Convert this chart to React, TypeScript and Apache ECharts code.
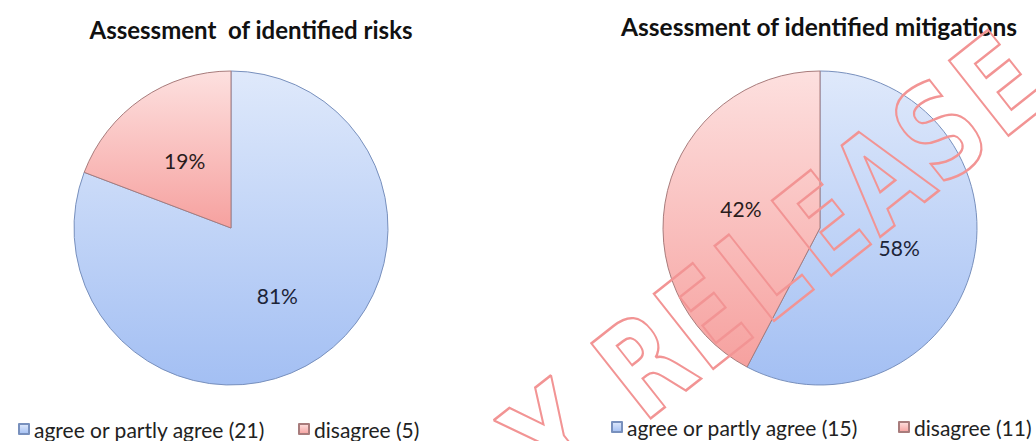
import React, { useEffect, useRef } from "react";
import * as echarts from "echarts";

const categories = ["agree or partly agree", "disagree"];
const risksValues = [21, 5];
const mitigationsValues = [15, 11];
const chartTitles = ["Assessment  of identified risks", "Assessment of identified mitigations"];
const watermarkLetters = ["Y", "R", "E", "L", "E", "A", "S", "E"];
const watermarkSteps = [-1.55, 0, 1, 2, 3, 4, 5, 6];

const FONT = "Lato, 'Open Sans', sans-serif";

const blueFill = new echarts.graphic.LinearGradient(0, 0, 0, 1, [
  { offset: 0, color: "#dfe9fb" },
  { offset: 1, color: "#a3bff3" },
]);
const pinkFill = new echarts.graphic.LinearGradient(0, 0, 0, 1, [
  { offset: 0, color: "#fde0df" },
  { offset: 1, color: "#f6a19f" },
]);

function makeData(values: number[]) {
  return values.map((v, i) => ({
    name: `${categories[i]} (${v})`,
    value: v,
    itemStyle:
      i === 0
        ? { color: blueFill, borderColor: "#7890bd", borderWidth: 1 }
        : { color: pinkFill, borderColor: "#a87c7c", borderWidth: 1 },
    label: { color: i === 0 ? "#1c2438" : "#2a1c1c" },
  }));
}

export default function App() {
  const ref = useRef<HTMLDivElement>(null);
  useEffect(() => {
    if (!ref.current) return;
    const chart = echarts.init(ref.current, null, { renderer: "svg" });
    const riskData = makeData(risksValues);
    const mitData = makeData(mitigationsValues);
    const legendText = { fontSize: 21, fontFamily: FONT, color: "#222", lineHeight: 22 };
    const legendBase = {
      padding: 0,
      icon: "rect",
      itemWidth: 10,
      itemHeight: 10,
      itemGap: 5,
      textStyle: legendText,
      selectedMode: false,
    };
    const pieCommon = {
      type: "pie",
      radius: 157,
      startAngle: 90,
      clockwise: true,
      silent: true,
      label: {
        show: true,
        position: "inside",
        formatter: (p: any) => Math.round(p.percent) + "%",
        fontSize: 21,
        fontFamily: FONT,
      },
      labelLine: { show: false },
      emphasis: { disabled: true },
    };

    // watermark letters laid along a rotated baseline
    const ang = (38.3 * Math.PI) / 180;
    const step = 75.3;
    const ox = 645;
    const oy = 365;
    const watermark = watermarkLetters.map((ch, i) => ({
      type: "text",
      x: ox + Math.cos(ang) * step * watermarkSteps[i],
      y: oy - Math.sin(ang) * step * watermarkSteps[i],
      rotation: ang,
      scaleX: 0.86,
      scaleY: 1.15,
      z: 100,
      silent: true,
      style: {
        text: ch,
        fontSize: 114,
        fontWeight: "bold",
        fontFamily: "'DejaVu Sans', sans-serif",
        fill: "rgba(255,255,255,0)",
        stroke: "#f29494",
        lineWidth: 2.2,
        align: "center",
        verticalAlign: "middle",
      },
    }));

    chart.setOption({
      animation: false,
      backgroundColor: "#ffffff",
      title: [
        {
          text: chartTitles[0],
          left: 251,
          top: 17,
          textAlign: "center",
          padding: 0,
          textStyle: { fontSize: 24, fontWeight: "bold", fontFamily: FONT, color: "#111" },
        },
        {
          text: chartTitles[1],
          left: 819,
          top: 14,
          textAlign: "center",
          padding: 0,
          textStyle: { fontSize: 24.5, fontWeight: "bold", fontFamily: FONT, color: "#111" },
        },
      ],
      legend: [
        { ...legendBase, data: [riskData[0].name], left: 18, top: 418 },
        { ...legendBase, data: [riskData[1].name], left: 298, top: 418 },
        { ...legendBase, data: [mitData[0].name], left: 611, top: 416 },
        { ...legendBase, data: [mitData[1].name], left: 898, top: 416 },
      ],
      series: [
        { ...pieCommon, name: "risks", center: [231, 228], data: riskData },
        { ...pieCommon, name: "mitigations", center: [820, 228], data: mitData },
      ],
      graphic: watermark,
    });
    return () => chart.dispose();
  }, []);
  return (
    <div
      ref={ref}
      style={{ position: "absolute", left: 0, top: 0, width: 1036, height: 441 }}
    />
  );
}
